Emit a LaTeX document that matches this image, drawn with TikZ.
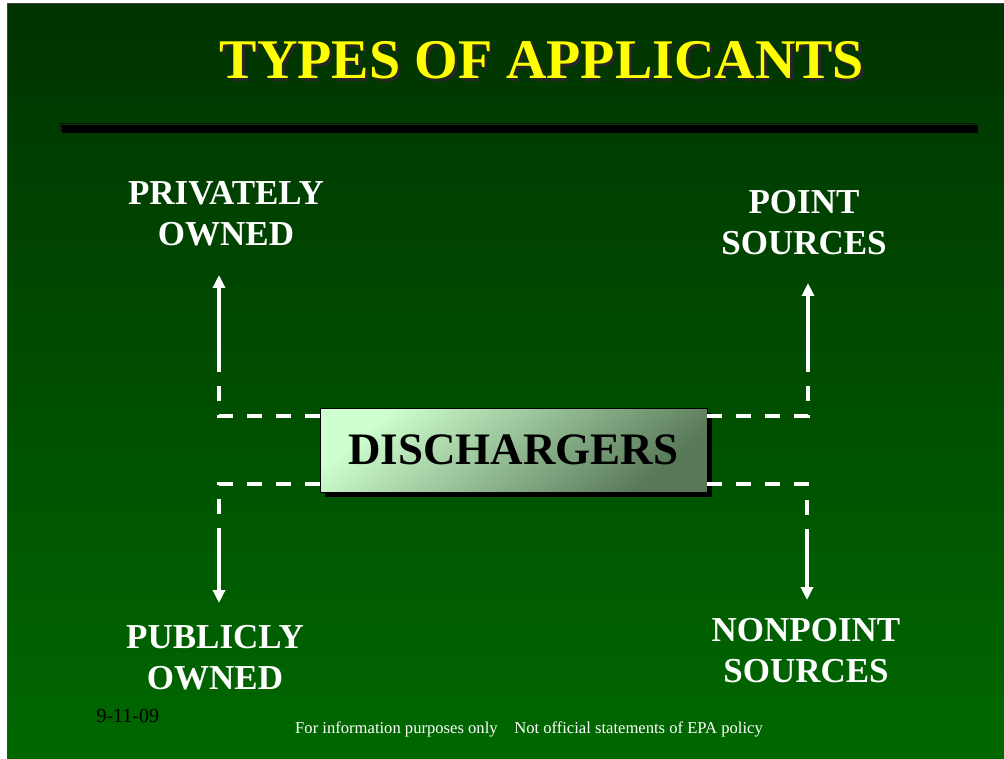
\documentclass[tikz,border=0pt]{standalone}
\usepackage{fontspec}
\setmainfont{Liberation Serif}
\usetikzlibrary{arrows.meta, shadows}
\definecolor{bgtop}{RGB}{0, 51, 0}
\definecolor{bgbottom}{RGB}{0, 104, 0}
\definecolor{titleyellow}{RGB}{255, 255, 0}
\definecolor{boxlight}{RGB}{206, 255, 206}
\definecolor{boxdark}{RGB}{88, 120, 88}

\begin{document}
\begin{tikzpicture}[x=1pt, y=-1pt,
  kind/.style={text=white, font=\fontsize{35}{41}\selectfont\bfseries, align=center},
  dashlink/.style={white, line width=4pt, dash pattern=on 15pt off 14pt},
  solidlink/.style={white, line width=3.5pt, -{Triangle[width=12pt, length=13pt]}}]
  \useasboundingbox (0,0) rectangle (1004,759);

  % Slide background
  \fill[white] (0,0) rectangle (1004,759);
  \shade[top color=bgtop, bottom color=bgbottom] (8,4) rectangle (1004,759);
  \draw[black!75, line width=1pt] (7.5,759) -- (7.5,3.5) -- (1004,3.5);

  % Title with its shadow
  \node[font=\fontsize{56}{60}\selectfont\bfseries] (title) at (542,62)
    {\rlap{\hspace{3pt}\raisebox{-3pt}{\color{black!85}TYPES OF APPLICANTS}}\textcolor{titleyellow}{TYPES OF APPLICANTS}};

  % Rule under the title
  \draw[black!60!bgtop, line width=0.8pt] (60,123) rectangle (975,130);
  \fill[black] (62,125) rectangle (978,133);

  % Central box
  \node[draw=black, line width=0.6pt, top color=boxlight, bottom color=boxdark, shading angle=40,
        minimum width=387pt, minimum height=84pt, font=\fontsize{45}{48}\selectfont\bfseries,
        drop shadow={fill=black, opacity=1, shadow xshift=5pt, shadow yshift=-5pt}] (dis) at (513.5,450) {DISCHARGERS};

  % Types
  \node[kind] (private) at (226,214) {PRIVATELY\\OWNED};
  \node[kind] (point) at (804,223) {POINT\\SOURCES};
  \node[kind] (public) at (215,658) {PUBLICLY\\OWNED};
  \node[kind] (nonpoint) at (806,651) {NONPOINT\\SOURCES};

  % Bends and arrow tips
  \coordinate (pv-turn) at (219,416);
  \coordinate (pv-mid) at (219,362);
  \coordinate (pv-tip) at (219,275);
  \coordinate (pt-turn) at (808,416);
  \coordinate (pt-mid) at (808,368);
  \coordinate (pt-tip) at (808,283);
  \coordinate (pb-turn) at (219,484);
  \coordinate (pb-mid) at (219,532);
  \coordinate (pb-tip) at (219,603);
  \coordinate (np-turn) at (807,484);
  \coordinate (np-mid) at (807,533);
  \coordinate (np-tip) at (807,600);

  % Connectors
  \draw[dashlink] (dis.west |- pv-turn) -- (pv-turn) -- (pv-mid);
  \draw[solidlink] (pv-mid) -- (pv-tip);
  \draw[dashlink] (dis.east |- pt-turn) -- (pt-turn) -- (pt-mid);
  \draw[solidlink] (pt-mid) -- (pt-tip);
  \draw[dashlink] (dis.west |- pb-turn) -- (pb-turn) -- (pb-mid);
  \draw[solidlink] (pb-mid) -- (pb-tip);
  \draw[dashlink] (dis.east |- np-turn) -- (np-turn) -- (np-mid);
  \draw[solidlink] (np-mid) -- (np-tip);

  % Footer
  \node[anchor=base west, font=\fontsize{20}{22}\selectfont] (date) at (93,722) {9-11-09};
  \node[text=white, font=\fontsize{16.6}{18}\selectfont] (footer) at (529,729) {For information purposes only\quad Not official statements of EPA policy};
\end{tikzpicture}
\end{document}
